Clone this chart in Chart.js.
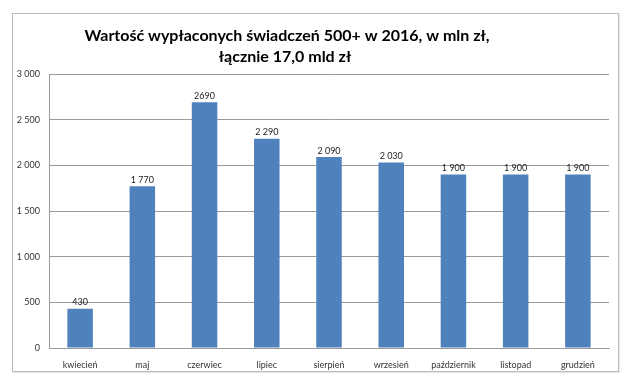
<!DOCTYPE html>
<html>
<head>
<meta charset="utf-8">
<script src="https://cdn.jsdelivr.net/npm/chart.js@4.4.1/dist/chart.umd.min.js"></script>
<style>
  html, body { margin: 0; padding: 0; background: #ffffff; }
  #wrap { position: relative; width: 640px; height: 386px; }
  #frame { position: absolute; left: 12px; top: 13px; width: 607px; height: 359px; border: 1px solid #bcbcbc; box-sizing: border-box; box-shadow: 1px 1px 1px #e6e6e6; }
  canvas { position: absolute; left: 0; top: 0; }
</style>
</head>
<body>
<div id="wrap">
  <div id="frame"></div>
  <canvas id="c" width="640" height="386"></canvas>
</div>
<script>
const categories = ["kwiecień", "maj", "czerwiec", "lipiec", "sierpień", "wrzesień", "październik", "listopad", "grudzień"];
const values = [430, 1770, 2690, 2290, 2090, 2030, 1900, 1900, 1900];
const valueLabels = ["430", "1 770", "2690", "2 290", "2 090", "2 030", "1 900", "1 900", "1 900"];
const yTicks = [0, 500, 1000, 1500, 2000, 2500, 3000];
const yTickLabels = ["0", "500", "1 000", "1 500", "2 000", "2 500", "3 000"];
const titleLines = ["Wartość wypłaconych świadczeń 500+ w 2016, w mln zł,", "łącznie 17,0 mld zł"];

const FONT = "Lato, 'Open Sans', sans-serif";

const titlePlugin = {
  id: 'customTitle',
  afterDraw(chart) {
    const ctx = chart.ctx;
    ctx.save();
    ctx.fillStyle = '#000000';
    ctx.font = "bold 16px " + FONT;
    ctx.textAlign = 'center';
    ctx.textBaseline = 'middle';
    ctx.fillText(titleLines[0], 287, 36);
    ctx.fillText(titleLines[1], 285, 57);
    ctx.restore();
  }
};

const valueLabelPlugin = {
  id: 'valueLabels',
  afterDatasetsDraw(chart) {
    const ctx = chart.ctx;
    const meta = chart.getDatasetMeta(0);
    ctx.save();
    ctx.fillStyle = '#222222';
    ctx.font = "9px " + FONT;
    ctx.textAlign = 'center';
    ctx.textBaseline = 'bottom';
    meta.data.forEach((bar, i) => {
      ctx.fillText(valueLabels[i], bar.x, bar.y - 2);
    });
    ctx.restore();
  }
};

new Chart(document.getElementById('c'), {
  type: 'bar',
  data: {
    labels: categories,
    datasets: [{
      data: values,
      backgroundColor: '#4f81bd',
      borderWidth: 0,
      barPercentage: 0.41,
      categoryPercentage: 1.0
    }]
  },
  options: {
    responsive: false,
    animation: false,
    devicePixelRatio: 1,
    layout: { padding: { top: 74, right: 31, left: 0, bottom: 0 } },
    plugins: {
      legend: { display: false },
      title: { display: false },
      tooltip: { enabled: false }
    },
    scales: {
      x: {
        grid: { display: false },
        border: { display: true, color: '#9a9a9a', width: 1 },
        ticks: { color: '#333333', font: { family: FONT, size: 9 }, padding: 4, maxRotation: 0, autoSkip: false },
        afterFit(scale) { scale.height = 38; }
      },
      y: {
        min: 0,
        max: 3000,
        afterBuildTicks(scale) { scale.ticks = yTicks.map(v => ({ value: v })); },
        ticks: {
          color: '#333333',
          font: { family: FONT, size: 9 },
          padding: 9,
          callback(value) { const i = yTicks.indexOf(value); return i >= 0 ? yTickLabels[i] : ''; }
        },
        grid: { color: '#9a9a9a', lineWidth: 1, drawTicks: false },
        border: { display: true, color: '#9a9a9a', width: 1 },
        afterFit(scale) { scale.width = 49; }
      }
    }
  },
  plugins: [titlePlugin, valueLabelPlugin]
});
</script>
</body>
</html>
